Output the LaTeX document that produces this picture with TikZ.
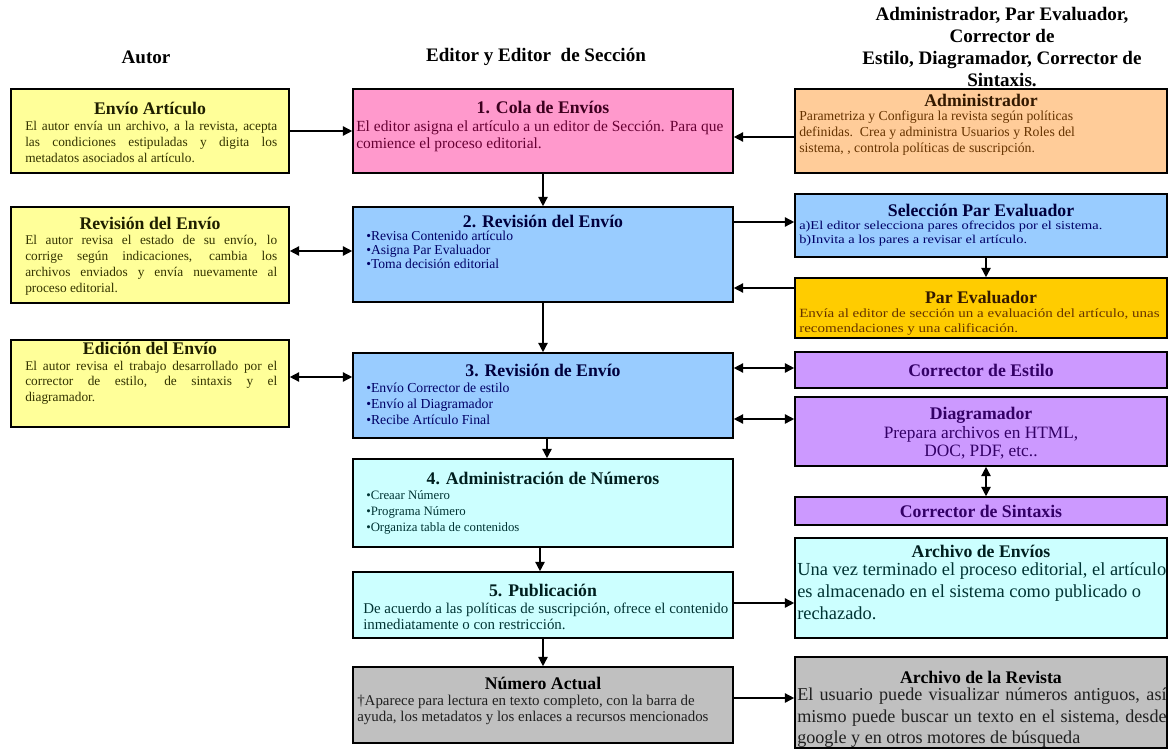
\documentclass[tikz,border=0pt]{standalone}
\usepackage{fontspec}
\setmainfont{Liberation Serif}
\newfontfamily\serifancha{Liberation Serif}[FakeStretch=1.2]
\usetikzlibrary{arrows.meta,fit}

\hyphenpenalty=10000
\exhyphenpenalty=10000
\tolerance=10000

% fill colours
\definecolor{amarillo}{HTML}{FFFF99}
\definecolor{rosa}{HTML}{FF99CC}
\definecolor{azul}{HTML}{99CCFF}
\definecolor{celeste}{HTML}{CCFFFF}
\definecolor{naranja}{HTML}{FFCC99}
\definecolor{oro}{HTML}{FFCC00}
\definecolor{lila}{HTML}{CC99FF}
\definecolor{gris}{HTML}{C0C0C0}
% text colours
\definecolor{txtolivo}{HTML}{333300}
\definecolor{txtvino}{HTML}{660033}
\definecolor{txtazul}{HTML}{000066}
\definecolor{txtverde}{HTML}{003333}
\definecolor{txtcafe}{HTML}{663300}
\definecolor{txtlila}{HTML}{330066}
\definecolor{txtgris}{HTML}{202020}

\tikzset{
  caja/.style={draw=black, line width=1.2pt, inner sep=0pt},
  titulo/.style={font=\bfseries\fontsize{13.3}{15}\selectfont, anchor=base, inner sep=0pt},
  cuerpo/.style={anchor=north west, inner sep=0pt, align=left},
  cuerpoj/.style={anchor=north west, inner sep=0pt, align=justify},
  flecha/.style={draw=black, line width=1.1pt, -{Triangle[length=7pt,width=7pt]}},
  doble/.style={draw=black, line width=1.1pt, {Triangle[length=7pt,width=7pt]}-{Triangle[length=7pt,width=7pt]}},
  cabecera/.style={font=\bfseries\fontsize{14.3}{16.5}\selectfont, align=center, inner sep=0pt}
}

% a filled, outlined box spanning two corners
\newcommand\recuadro[6]{\node[caja, fill=#6, fit={(#2,#3)(#4,#5)}] (#1) {};}

\begin{document}
\begin{tikzpicture}[x=0.75pt, y=-0.75pt]
\useasboundingbox (0,0) rectangle (1169,749);

% ---------------- Autor ----------------
\recuadro{ea}{11}{89}{289}{173}{amarillo}
\node[titulo, text=txtolivo!60!black] (ea-t) at (150,114) {Envío Artículo};
\node[cuerpoj, text=txtolivo, text width=189pt, font=\fontsize{10}{12}\selectfont] (ea-b) at (25,121)
  {El autor envía un archivo, a la revista, acepta\linebreak las condiciones estipuladas y digita los\linebreak metadatos asociados al artículo.};

\recuadro{rde}{11}{207}{289}{303}{amarillo}
\node[titulo, text=txtolivo!60!black] (rde-t) at (150,229) {Revisión del Envío};
\node[cuerpoj, text=txtolivo, text width=189pt, font=\fontsize{10}{12}\selectfont] (rde-b) at (25,235)
  {El autor revisa el estado de su envío, lo\linebreak corrige según indicaciones, cambia los\linebreak archivos enviados y envía nuevamente al\linebreak proceso editorial.};

\recuadro{ede}{11}{340}{289}{427}{amarillo}
\node[titulo, text=txtolivo!60!black] (ede-t) at (150,354) {Edición del Envío};
\node[cuerpoj, text=txtolivo, text width=189pt, font=\fontsize{10}{11.5}\selectfont] (ede-b) at (25,361)
  {El autor revisa el trabajo desarrollado por el\linebreak corrector de estilo, de sintaxis y el\linebreak diagramador.};

% ---------------- Editor y Editor de Sección ----------------
\recuadro{c1}{353}{89}{733}{173}{rosa}
\node[titulo, text=txtvino!60!black] (c1-t) at (543,113) {1. Cola de Envíos};
\node[cuerpo, text=txtvino, font=\fontsize{11.6}{12.75}\selectfont] (c1-b) at (356,120)
  {El editor asigna el artículo a un editor de Sección. Para que\\comience el proceso editorial.};

\recuadro{c2}{353}{207}{733}{302}{azul}
\node[titulo, text=txtazul!60!black] (c2-t) at (543,227) {2. Revisión del Envío};
\node[cuerpo, text=txtazul, font=\fontsize{10.2}{10.5}\selectfont] (c2-b) at (366,231)
  {•Revisa Contenido artículo\\•Asigna Par Evaluador\\•Toma decisión editorial};

\recuadro{c3}{353}{353}{733}{438}{azul}
\node[titulo, text=txtazul!60!black] (c3-t) at (543,376) {3. Revisión de Envío};
\node[cuerpo, text=txtazul, font=\fontsize{10.3}{12}\selectfont] (c3-b) at (366,383)
  {•Envío Corrector de estilo\\•Envío al Diagramador\\•Recibe Artículo Final};

\recuadro{c4}{353}{459}{733}{547}{celeste}
\node[titulo, text=txtverde!60!black] (c4-t) at (543,484) {4. Administración de Números};
\node[cuerpo, text=txtverde, font=\fontsize{9.6}{12}\selectfont] (c4-b) at (366,490)
  {•Creaar Número\\•Programa Número\\•Organiza tabla de contenidos};

\recuadro{c5}{353}{572}{733}{638}{celeste}
\node[titulo, text=txtverde!60!black] (c5-t) at (543,596) {5. Publicación};
\node[cuerpo, text=txtverde, font=\fontsize{11.2}{12}\selectfont] (c5-b) at (363,603)
  {De acuerdo a las políticas de suscripción, ofrece el contenido\\inmediatamente o con restricción.};

\recuadro{na}{353}{667}{733}{743}{gris}
\node[titulo, text=black] (na-t) at (543,689) {Número Actual};
\node[cuerpo, text=txtgris, font=\fontsize{11.2}{12}\selectfont] (na-b) at (357,695)
  {†Aparece para lectura en texto completo, con la barra de\\ayuda, los metadatos y los enlaces a recursos mencionados};

% ---------------- Otros roles ----------------
\recuadro{adm}{795}{89}{1167}{173}{naranja}
\node[titulo, text=txtcafe!50!black] (adm-t) at (981,106) {Administrador};
\node[cuerpo, text=txtcafe, font=\fontsize{10.3}{12}\selectfont] (adm-b) at (799,111)
  {Parametriza y Configura la revista según políticas\\definidas.\ \ Crea y administra Usuarios y Roles del\\sistema, , controla políticas de suscripción.};

\recuadro{sel}{795}{194}{1167}{257}{azul}
\node[titulo, text=txtazul!60!black] (sel-t) at (981,216) {Selección Par Evaluador};
\node[cuerpo, text=txtazul, font=\serifancha\fontsize{9}{10}\selectfont] (sel-b) at (799,221)
  {a)El editor selecciona pares ofrecidos por el sistema.\\b)Invita a los pares a revisar el artículo.};

\recuadro{par}{795}{278}{1167}{338}{oro}
\node[titulo, text=txtcafe!50!black] (par-t) at (981,303) {Par Evaluador};
\node[cuerpo, text=txtcafe, font=\serifancha\fontsize{9.4}{11.25}\selectfont] (par-b) at (799,309)
  {Envía al editor de sección un a evaluación del artículo, unas\\recomendaciones y una calificación.};

\recuadro{ce}{795}{352}{1167}{388}{lila}
\node[titulo, text=txtlila] (ce-t) at (981,376) {Corrector de Estilo};

\recuadro{dia}{795}{397}{1167}{466}{lila}
\node[titulo, text=txtlila] (dia-t) at (981,419) {Diagramador};
\node[anchor=north, inner sep=0pt, align=center, text=txtlila, font=\fontsize{13}{13.5}\selectfont] (dia-b) at (981,426)
  {Prepara archivos en HTML,\\DOC, PDF, etc..};

\recuadro{cs}{795}{497}{1167}{525}{lila}
\node[titulo, text=txtlila] (cs-t) at (981,517) {Corrector de Sintaxis};

\recuadro{ae}{795}{538}{1167}{638}{celeste}
\node[titulo, text=txtverde!60!black] (ae-t) at (981,557) {Archivo de Envíos};
\node[cuerpo, text=txtverde, font=\fontsize{13.8}{16.5}\selectfont] (ae-b) at (797,562)
  {Una vez terminado el proceso editorial, el artículo\\es almacenado en el sistema como publicado o\\rechazado.};

\recuadro{ar}{795}{657}{1167}{748}{gris}
\node[titulo, text=black] (ar-t) at (981,683) {Archivo de la Revista};
\node[cuerpoj, text=txtgris, text width=277pt, font=\fontsize{13.6}{16}\selectfont] (ar-b) at (797,688)
  {El usuario puede visualizar números antiguos, así\linebreak mismo puede buscar un texto en el sistema, desde\linebreak google y en otros motores de búsqueda};

% ---------------- Conectores ----------------
\draw[flecha] (ea.east) -- (c1.west);
\draw[doble] (rde.east |- 0,251) -- (c2.west |- 0,251);
\draw[doble] (ede.east |- 0,377) -- (c3.west |- 0,377);

\draw[flecha] (c1.south) -- (c2.north);
\draw[flecha] (c2.south) -- (c3.north);
\draw[flecha] (c3.south -| 547,0) -- (c4.north -| 547,0);
\draw[flecha] (c4.south -| 540,0) -- (c5.north -| 540,0);
\draw[flecha] (c5.south) -- (na.north);

\draw[flecha] (adm.west |- 0,137) -- (c1.east |- 0,137);
\draw[flecha] (c2.east |- 0,222) -- (sel.west |- 0,222);
\draw[flecha] (par.west |- 0,288) -- (c2.east |- 0,288);
\draw[doble] (c3.east |- 0,368) -- (ce.west |- 0,368);
\draw[doble] (c3.east |- 0,419) -- (dia.west |- 0,419);
\draw[flecha] (c5.east |- 0,603) -- (ae.west |- 0,603);
\draw[flecha] (na.east |- 0,698) -- (ar.west |- 0,698);

\draw[flecha] (sel.south -| 986,0) -- (par.north -| 986,0);
\draw[doble] (dia.south -| 986,0) -- (cs.north -| 986,0);

% ---------------- Encabezados de columna ----------------
\node[cabecera] (h-autor) at (146,57) {Autor};
\node[cabecera] (h-editor) at (536,57) {Editor y Editor\ \ de Sección};
\node[cabecera, anchor=north] (h-roles) at (1002,7)
  {Administrador, Par Evaluador,\\Corrector de\\Estilo, Diagramador, Corrector de\\Sintaxis.};

\end{tikzpicture}
\end{document}
